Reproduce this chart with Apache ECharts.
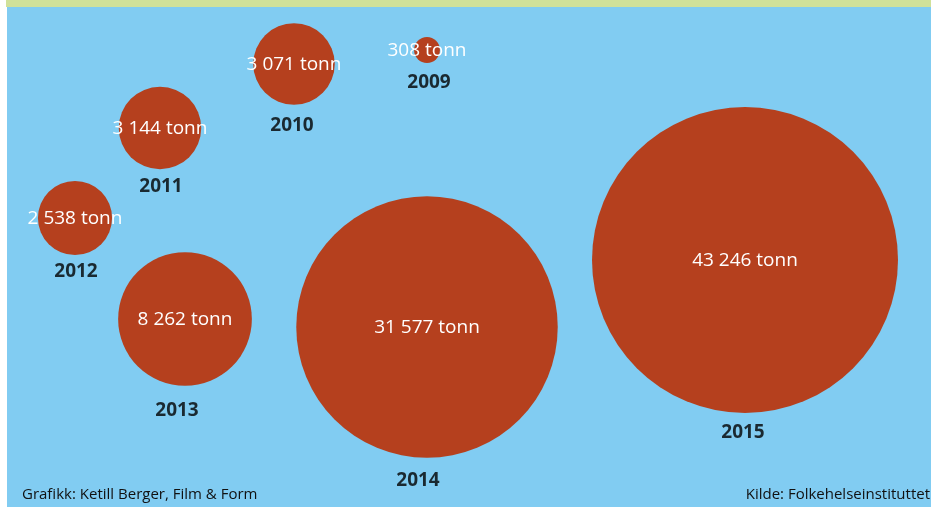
<!DOCTYPE html>
<html>
<head>
<meta charset="utf-8">
<script src="https://cdn.jsdelivr.net/npm/echarts@6/dist/echarts.min.js"></script>
<style>
  html, body { margin: 0; padding: 0; background: #fff; }
  #chart { width: 931px; height: 507px; }
</style>
</head>
<body>
<div id="chart"></div>
<script>
// data
var years = ['2009', '2010', '2011', '2012', '2013', '2014', '2015'];
var tonnes = [308, 3071, 3144, 2538, 8262, 31577, 43246];

// layout: bubble centres and year label anchors (pixels)
var bubbleCenters = [[427, 50], [294, 64], [160, 128], [75, 218], [185, 319], [427, 327], [745, 260]];
var yearLabelAt = [[429, 82], [292, 125], [161, 186], [76, 271], [177, 410], [418, 480], [743, 432]];

var W = 931, H = 507;
var maxR = 153;
var maxVal = Math.max.apply(null, tonnes);

function fmt(v) {
    return String(v).replace(/\B(?=(\d{3})+(?!\d))/g, ' ') + ' tonn';
}

var bubbleData = tonnes.map(function(v, i) {
    return { name: years[i], value: [bubbleCenters[i][0], bubbleCenters[i][1], v] };
});
var yearData = years.map(function(y, i) {
    return { name: y, value: [yearLabelAt[i][0], yearLabelAt[i][1]] };
});

var chart = echarts.init(document.getElementById('chart'), null, { renderer: 'canvas' });
chart.setOption({
    animation: false,
    backgroundColor: '#ffffff',
    grid: { left: 0, right: 0, top: 0, bottom: 0 },
    xAxis: { type: 'value', min: 0, max: W, show: false },
    yAxis: { type: 'value', min: 0, max: H, inverse: true, show: false },
    graphic: [
        { type: 'rect', z: -10, shape: { x: 7, y: 0, width: W - 7, height: H }, style: { fill: '#81ccf2' } },
        { type: 'rect', z: -9, shape: { x: 6, y: 0, width: W - 6, height: 7 }, style: { fill: '#d0e19a' } },
        {
            type: 'text', left: 22, top: 487,
            style: { text: 'Grafikk: Ketill Berger, Film & Form', fill: '#111111', font: '15px "Open Sans", sans-serif' }
        },
        {
            type: 'text', right: 1, top: 487,
            style: { text: 'Kilde: Folkehelseinstituttet', fill: '#111111', font: '15px "Open Sans", sans-serif' }
        }
    ],
    series: [
        {
            type: 'scatter',
            data: bubbleData,
            symbol: 'circle',
            symbolSize: function(val) { return 2 * maxR * Math.sqrt(val[2] / maxVal); },
            itemStyle: { color: '#b5401e', opacity: 1 },
            label: {
                show: true,
                position: 'inside',
                offset: [0, 1],
                formatter: function(p) { return fmt(p.value[2]); },
                color: '#ffffff',
                fontFamily: 'Open Sans',
                fontSize: 19
            },
            z: 2
        },
        {
            type: 'scatter',
            data: yearData,
            symbol: 'circle',
            symbolSize: 1,
            itemStyle: { color: 'rgba(0,0,0,0)' },
            label: {
                show: true,
                position: 'inside',
                offset: [0, 1],
                formatter: '{b}',
                color: '#000000',
                fontFamily: 'Open Sans',
                fontWeight: 'bold',
                fontSize: 19
            },
            z: 3
        }
    ]
});
</script>
</body>
</html>
